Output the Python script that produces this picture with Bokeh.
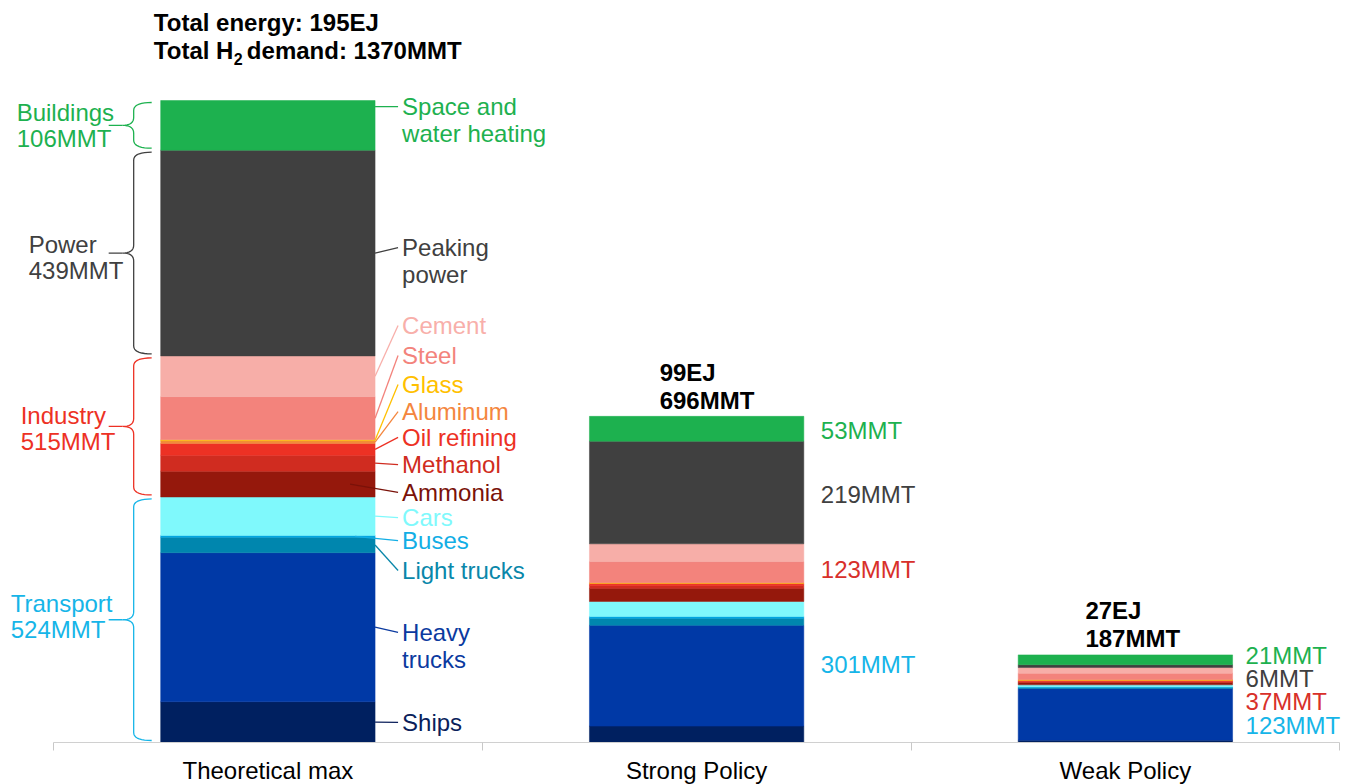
import numpy as np
from bokeh.plotting import figure
from bokeh.models import Range1d, FixedTicker, LinearAxis, ColumnDataSource
from bokeh.embed import file_html
from bokeh.resources import INLINE
from bokeh.core.properties import value

# ---------------- data ----------------
categories = ["Theoretical max", "Strong Policy", "Weak Policy"]
segments = ["Ships", "Heavy trucks", "Light trucks", "Buses", "Cars",
            "Ammonia", "Methanol", "Oil refining", "Aluminum", "Glass", "Steel", "Cement",
            "Peaking power", "Space and water heating"]
theoretical_max = [87, 318, 33, 4, 82, 55, 34, 25, 6, 2, 92, 87, 439, 106]
strong_policy = [35, 215, 15, 4, 32, 28, 6, 4, 1, 1, 45, 38, 219, 53]
weak_policy = [5, 110, 2, 2, 4, 5, 2, 2, 1, 1, 14, 12, 6, 21]
segment_labels = ["Ships", "Heavy\ntrucks", "Light trucks", "Buses", "Cars",
                  "Ammonia", "Methanol", "Oil refining", "Aluminum", "Glass", "Steel", "Cement",
                  "Peaking\npower", "Space and\nwater heating"]
sectors = ["Transport", "Industry", "Power", "Buildings"]
sector_sizes = [5, 7, 1, 1]
theoretical_sector_labels = ["524MMT", "515MMT", "439MMT", "106MMT"]
strong_sector_labels = ["301MMT", "123MMT", "219MMT", "53MMT"]
weak_sector_labels = ["123MMT", "37MMT", "6MMT", "21MMT"]
energy_labels = ["195EJ", "99EJ", "27EJ"]
total_labels = ["1370MMT", "696MMT", "187MMT"]

# ---------------- styles ----------------
seg_colors = ["#002060", "#0039A6", "#0086AE", "#00A7E1", "#7FF9FC",
              "#95180C", "#D02C20", "#ED3124", "#F28A3A", "#FFC000", "#F3837C", "#F7AEA8",
              "#404040", "#1DB14F"]
seg_text_colors = ["#0B1F5B", "#0B3A9F", "#0A87AA", "#12AEE5", "#7FF9FC",
                   "#7A1209", "#D02C20", "#ED3124", "#F4863E", "#FFC000", "#F3837C", "#F8AFAA",
                   "#404040", "#1DB14F"]
sector_colors = ["#16B5E8", "#ED3124", "#404040", "#1DB14F"]
sector_value_colors = ["#16B5E8", "#D8302A", "#404040", "#1DB14F"]
FONT = "Liberation Sans"
FS = "24px"

W, H = 1349, 784
X0, X1 = -0.1236, 3.0227
Y0, Y1 = -89.6, 1583.4
XS = W / (X1 - X0)   # px per x unit
YS = H / (Y1 - Y0)   # px per MMT
BAR_W = 0.5

p = figure(width=W, height=H, output_backend="svg", toolbar_location=None,
           x_range=Range1d(X0, X1), y_range=Range1d(Y0, Y1),
           x_axis_type=None, y_axis_type=None,
           min_border=0, min_border_left=0, min_border_right=0,
           min_border_top=0, min_border_bottom=0)
p.outline_line_color = None
p.grid.visible = False
p.background_fill_color = "white"
p.border_fill_color = "white"

xs = list(np.arange(len(categories)) + 0.5)
data = {"x": xs}
for i, s in enumerate(segments):
    data[s] = [theoretical_max[i], strong_policy[i], weak_policy[i]]
source = ColumnDataSource(data)
p.vbar_stack(segments, x="x", width=BAR_W, color=seg_colors, source=source, line_width=0.5)

# ---------------- axis ----------------
ax = LinearAxis(fixed_location=0,
                ticker=FixedTicker(ticks=xs, minor_ticks=list(range(len(categories) + 1))),
                major_label_overrides={x: c for x, c in zip(xs, categories)},
                bounds=(0, len(categories)))
ax.axis_line_color = "#D0D0D0"
ax.axis_line_width = 1
ax.major_tick_line_color = None
ax.major_tick_out = 0
ax.major_tick_in = 0
ax.minor_tick_line_color = "#C8C8C8"
ax.minor_tick_out = 8
ax.minor_tick_in = 0
ax.major_label_text_font = FONT
ax.major_label_text_font_size = FS
ax.major_label_text_color = "#000000"
ax.major_label_standoff = 6
p.add_layout(ax, "below")

def add_text(x, y, text, color, xo, yo, bold=False, align="left", size=FS):
    src = ColumnDataSource(dict(x=x, y=y, text=text, color=color, xo=xo, yo=yo))
    p.text(x="x", y="y", text="text", text_color="color", x_offset="xo", y_offset="yo",
           source=src, text_font=value(FONT), text_font_size=value(size),
           text_font_style="bold" if bold else "normal",
           text_baseline="middle", text_align=align)

# ---------------- theoretical max segment labels + leaders ----------------
seg_label_y = [43, 235, 367, 431, 480, 534, 593, 651, 706, 764, 826, 890, 1056, 1357]
leader_inset = {"Ammonia": -25, "Buses": -20}
horizontal_leader = {"Space and water heating"}
bar_right = xs[0] + BAR_W / 2
bar_left = xs[0] - BAR_W / 2
cum = np.concatenate([[0], np.cumsum(theoretical_max)])
tx, ty, tt, tc, txo, tyo = [], [], [], [], [], []
lx0, ly0, lx1, ly1, lc = [], [], [], [], []
for i, s in enumerate(segments):
    for k, line in enumerate(segment_labels[i].split("\n")):
        tx.append(bar_right); ty.append(seg_label_y[i]); tt.append(line)
        tc.append(seg_text_colors[i]); txo.append(27); tyo.append(27 * k)
    mid = cum[i] + theoretical_max[i] / 2
    y0 = seg_label_y[i] if s in horizontal_leader else mid
    lx0.append(bar_right + leader_inset.get(s, 0) / XS); ly0.append(y0)
    lx1.append(bar_right + 23 / XS); ly1.append(seg_label_y[i]); lc.append(seg_text_colors[i])
p.segment(x0=lx0, y0=ly0, x1=lx1, y1=ly1, color=lc, line_width=1.3)
add_text(tx, ty, tt, tc, txo, tyo)

# ---------------- sector braces (theoretical) ----------------
ends = np.cumsum([0] + sector_sizes)
label_dx = {"Transport": -150, "Industry": -140, "Power": -132, "Buildings": -144}
label_dy = {"Transport": -3, "Industry": 2, "Power": 4, "Buildings": 0}

def qbez(p0, p1, p2, n=10):
    t = np.linspace(0, 1, n)
    return ((1 - t) ** 2 * p0[0] + 2 * (1 - t) * t * p1[0] + t ** 2 * p2[0],
            (1 - t) ** 2 * p0[1] + 2 * (1 - t) * t * p1[1] + t ** 2 * p2[1])

bx, by, bc = [], [], []
gx, gy, gt, gc, gxo, gyo = [], [], [], [], [], []
xe = bar_left - 9 / XS
xv = bar_left - 27 / XS
xt = bar_left - 38 / XS
xc = bar_left - 52 / XS
ry = 8 / YS
for j, s in enumerate(sectors):
    bot = cum[ends[j]] + 2 / YS
    top = cum[ends[j + 1]] - 2 / YS
    mid = (cum[ends[j]] + cum[ends[j + 1]]) / 2
    X, Y = [], []
    for seg in [qbez((xe, top), (xv, top), (xv, top - ry)),
                qbez((xv, mid + ry), (xv, mid), (xt, mid)),
                qbez((xt, mid), (xv, mid), (xv, mid - ry)),
                qbez((xv, bot + ry), (xv, bot), (xe, bot))]:
        X.extend(seg[0]); Y.extend(seg[1])
    bx.append(X); by.append(Y); bc.append(sector_colors[j])
    bx.append([xt, xc]); by.append([mid, mid]); bc.append(sector_colors[j])
    for k, line in enumerate([s, theoretical_sector_labels[j]]):
        gx.append(bar_left); gy.append(mid); gt.append(line); gc.append(sector_colors[j])
        gxo.append(label_dx[s]); gyo.append(-13 + 26 * k + label_dy[s])
p.multi_line(xs=bx, ys=by, line_color=bc, line_width=1.3)
add_text(gx, gy, gt, gc, gxo, gyo)

# ---------------- strong policy values ----------------
cum_s = np.concatenate([[0], np.cumsum(strong_policy)])
sx, sy = [], []
for j in range(len(sectors)):
    sx.append(xs[1] + BAR_W / 2)
    sy.append((cum_s[ends[j]] + cum_s[ends[j + 1]]) / 2)
add_text(sx, sy, strong_sector_labels, sector_value_colors, [17] * 4, [-7, -3, 2, 2])

# ---------------- weak policy values (stacked from top) ----------------
total_w = sum(weak_policy)
order = list(range(len(sectors)))[::-1]
add_text([xs[2] + BAR_W / 2] * 4, [total_w] * 4,
         [weak_sector_labels[j] for j in order],
         [sector_value_colors[j] for j in order],
         [13] * 4, [1, 24, 47, 71])

# ---------------- totals on top ----------------
totals = [sum(theoretical_max), sum(strong_policy), sum(weak_policy)]
top_x, top_y, top_t, top_xo, top_yo = [], [], [], [], []
top_x += [xs[0], xs[0], xs[0]]; top_y += [totals[0]] * 3
top_t += ["Total energy: " + energy_labels[0], "Total H", "demand: " + total_labels[0]]
top_xo += [-114, -114, -21]; top_yo += [-78, -50, -50]
for i, xo in [(1, -37), (2, -40)]:
    top_x += [xs[i], xs[i]]; top_y += [totals[i], totals[i]]
    top_t += [energy_labels[i], total_labels[i]]
    top_xo += [xo, xo]; top_yo += [-44, -16]
add_text(top_x, top_y, top_t, ["#000000"] * len(top_t), top_xo, top_yo, bold=True)
# subscript "2" of H2
add_text([xs[0]], [totals[0]], ["2"], ["#000000"], [-34], [-42], bold=True, size="16px")

open("out.html", "w").write(file_html(p, INLINE))
